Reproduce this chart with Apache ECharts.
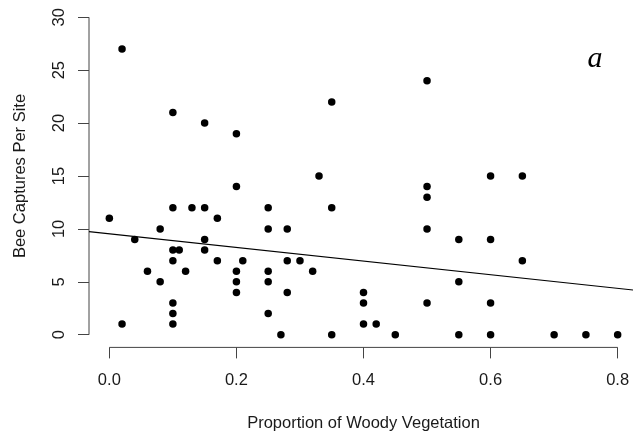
<!DOCTYPE html>
<html>
<head>
<meta charset="utf-8">
<script src="https://cdn.jsdelivr.net/npm/echarts@6/dist/echarts.min.js"></script>
<style>
  html, body { margin: 0; padding: 0; background: #fff; }
  #chart { width: 633px; height: 433px; }
</style>
</head>
<body>
<div id="chart"></div>
<script>
// Proportion of woody vegetation around each site
const woodyProp = [
  0.02, 0.10, 0.15, 0.20,
  0.20, 0.10, 0.13, 0.15, 0.25, 0.00, 0.17, 0.08, 0.25, 0.04, 0.15, 0.10, 0.11, 0.15,
  0.10, 0.17, 0.21, 0.06, 0.12, 0.20, 0.25, 0.08, 0.20, 0.25, 0.20, 0.10, 0.10, 0.02,
  0.10, 0.25,
  0.33, 0.50, 0.50, 0.35, 0.28, 0.50, 0.28, 0.30, 0.32, 0.28, 0.40, 0.40, 0.40, 0.42,
  0.50, 0.27, 0.35, 0.45,
  0.50, 0.35,
  0.60, 0.65, 0.55, 0.60, 0.65, 0.55, 0.60, 0.55, 0.60, 0.70, 0.75, 0.80
];
// Bee captures recorded at the same sites
const beeCaptures = [
  27, 21, 20, 19,
  14, 12, 12, 12, 12, 11, 11, 10, 10, 9, 9, 8, 8, 8,
  7, 7, 7, 6, 6, 6, 6, 5, 5, 5, 4, 3, 2, 1,
  1, 2,
  15, 14, 13, 12, 10, 10, 7, 7, 6, 4, 4, 3, 1, 1,
  3, 0, 0, 0,
  24, 22,
  15, 15, 9, 9, 7, 5, 3, 0, 0, 0, 0, 0
];

// Fitted linear model coefficients (captures ~ woody proportion)
const fitIntercept = 9.54;
const fitSlope = -6.45;

const xTicks = [0, 0.2, 0.4, 0.6, 0.8];
const yTicks = [0, 5, 10, 15, 20, 25, 30];

// Plot extents padded 4% beyond the tick range
const xMin = -0.032, xMax = 0.832;
const yMin = -1.2, yMax = 31.2;

const points = woodyProp.map((x, i) => [x, beeCaptures[i]]);
const fitLine = [xMin, xMax].map(x => [x, fitIntercept + fitSlope * x]);

const fontSans = "'Liberation Sans', Arial, sans-serif";
const axisColor = '#444';
const textColor = '#1a1a1a';

const chart = echarts.init(document.getElementById('chart'), null, { renderer: 'canvas' });

chart.setOption({
  animation: false,
  backgroundColor: '#fff',
  grid: { left: 89, right: -5, top: 4.6, bottom: 85.6, outerBoundsMode: 'none', containLabel: false },
  xAxis: {
    type: 'value',
    min: xMin,
    max: xMax,
    name: 'Proportion of Woody Vegetation',
    nameLocation: 'middle',
    nameGap: 68,
    nameTextStyle: { fontFamily: fontSans, fontSize: 16.5, color: textColor },
    axisLine: { show: false, onZero: false },
    splitLine: { show: false },
    axisTick: { show: true, inside: false, length: 11, customValues: xTicks, lineStyle: { color: axisColor, width: 1 } },
    axisLabel: {
      customValues: xTicks,
      margin: 25,
      fontFamily: fontSans,
      fontSize: 16.5,
      color: textColor,
      formatter: v => Number(v).toFixed(1)
    }
  },
  yAxis: {
    type: 'value',
    min: yMin,
    max: yMax,
    name: 'Bee Captures Per Site',
    nameLocation: 'middle',
    nameGap: 60,
    nameRotate: 90,
    nameTextStyle: { fontFamily: fontSans, fontSize: 16.5, color: textColor },
    axisLine: { show: false, onZero: false },
    splitLine: { show: false },
    axisTick: { show: true, inside: false, length: 11, customValues: yTicks, lineStyle: { color: axisColor, width: 1 } },
    axisLabel: {
      customValues: yTicks,
      rotate: 90,
      margin: 21,
      fontFamily: fontSans,
      fontSize: 16.5,
      color: textColor
    }
  },
  series: [
    {
      // bottom axis line spanning the tick range
      type: 'line',
      data: [[xTicks[0], yMin], [xTicks[xTicks.length - 1], yMin]],
      symbol: 'none',
      clip: false,
      silent: true,
      lineStyle: { color: axisColor, width: 1 },
      z: 1
    },
    {
      // left axis line spanning the tick range
      type: 'line',
      data: [[xMin, yTicks[0]], [xMin, yTicks[yTicks.length - 1]]],
      symbol: 'none',
      clip: false,
      silent: true,
      lineStyle: { color: axisColor, width: 1 },
      z: 1
    },
    {
      type: 'scatter',
      data: points,
      symbol: 'circle',
      symbolSize: 7.5,
      itemStyle: { color: '#000', opacity: 1 },
      z: 3
    },
    {
      type: 'line',
      data: fitLine,
      symbol: 'none',
      clip: true,
      lineStyle: { color: '#000', width: 1.2 },
      z: 2
    }
  ],
  graphic: [
    {
      type: 'text',
      x: 595,
      y: 59.5,
      style: {
        text: 'a',
        fontFamily: "'Liberation Serif', 'Times New Roman', serif",
        fontStyle: 'italic',
        fontSize: 30,
        fill: '#000',
        align: 'center',
        verticalAlign: 'middle'
      }
    }
  ]
});
</script>
</body>
</html>
